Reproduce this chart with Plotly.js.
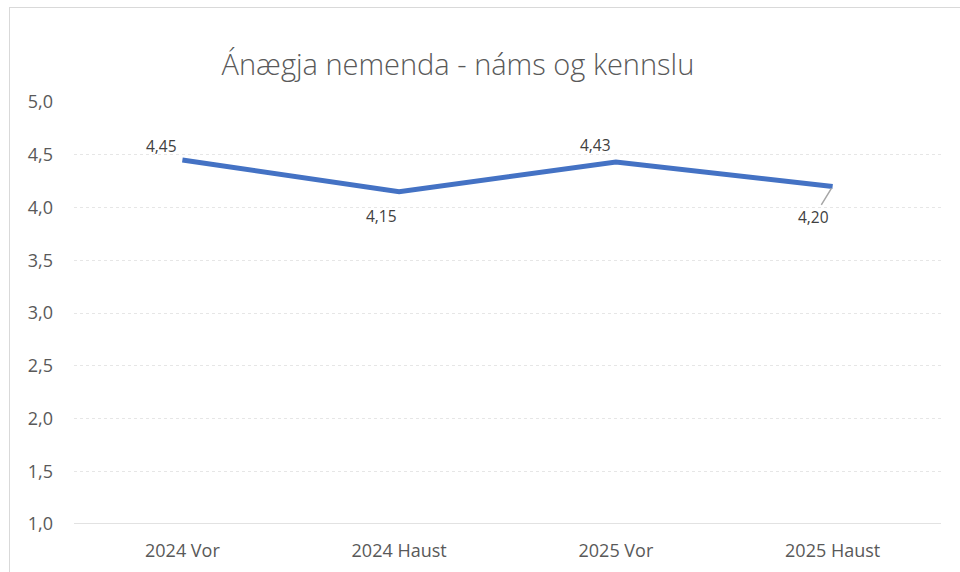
<!DOCTYPE html>
<html>
<head>
<meta charset="utf-8">
<script src="https://cdn.plot.ly/plotly-3.0.1.min.js"></script>
<style>
html,body{margin:0;padding:0;background:#fff;}
#wrap{position:relative;width:960px;height:572px;overflow:hidden;}
#chart{position:absolute;left:0;top:0;width:960px;height:572px;}
#frame{position:absolute;left:9px;top:7px;width:1000px;height:1000px;border:1.5px solid #d9d9d9;pointer-events:none;}
</style>
</head>
<body>
<div id="wrap"><div id="chart"></div><div id="frame"></div></div>
<script>
const categories = ["2024 Vor", "2024 Haust", "2025 Vor", "2025 Haust"];
const values = [4.45, 4.15, 4.43, 4.20];
const yTicks = [1.0, 1.5, 2.0, 2.5, 3.0, 3.5, 4.0, 4.5, 5.0];
const yTickText = ["1,0", "1,5", "2,0", "2,5", "3,0", "3,5", "4,0", "4,5", "5,0"];
const chartTitle = "Ánægja nemenda - náms og kennslu";

const FONT = "'Open Sans', 'Noto Sans', sans-serif";
const fmt = v => v.toFixed(2).replace(".", ",");
const labelStyle = [
  {xshift: -21, yshift: 14},
  {xshift: -18, yshift: -24},
  {xshift: -20, yshift: 17}
];
const annotations = [];
values.forEach((v, i) => {
  if (i < 3) {
    annotations.push({
      x: categories[i], y: v, xref: "x", yref: "y",
      text: fmt(v), showarrow: false,
      xshift: labelStyle[i].xshift, yshift: labelStyle[i].yshift,
      font: {family: FONT, size: 15.5, color: "#404040"}
    });
  } else {
    annotations.push({
      x: categories[i], y: v, xref: "x", yref: "y",
      text: fmt(v), showarrow: true, arrowhead: 0, arrowwidth: 1.5,
      arrowcolor: "#a6a6a6", ax: -19, ay: 31, standoff: 2,
      font: {family: FONT, size: 15.5, color: "#404040"}
    });
  }
});

const trace = {
  x: categories, y: values, type: "scatter", mode: "lines",
  line: {color: "#4472C4", width: 5, shape: "linear"},
  hoverinfo: "skip"
};

const layout = {
  width: 960, height: 572,
  margin: {l: 74, r: 19, t: 102, b: 48},
  paper_bgcolor: "#ffffff", plot_bgcolor: "#ffffff",
  showlegend: false,
  title: {
    text: chartTitle, x: 0.477, xanchor: "center", y: 0.886, yanchor: "middle",
    font: {family: FONT, size: 29, color: "#595959", weight: 300}
  },
  xaxis: {
    type: "category", range: [-0.5, 3.5],
    showgrid: false, zeroline: false, showline: false, ticks: "",
    tickfont: {family: FONT, size: 18, color: "#595959"},
    ticklabelstandoff: 14,
    fixedrange: true
  },
  yaxis: {
    range: [1.0, 5.0], tickvals: yTicks, ticktext: yTickText,
    showgrid: true, gridcolor: "#e6e6e6", griddash: "dot", gridwidth: 1,
    zeroline: false, showline: false, ticks: "",
    tickfont: {family: FONT, size: 18, color: "#595959"},
    ticklabelstandoff: 20,
    fixedrange: true
  },
  shapes: [{
    type: "line", xref: "paper", yref: "y", x0: 0, x1: 1, y0: 1.0, y1: 1.0,
    line: {color: "#d9d9d9", width: 1.5}
  }],
  annotations: annotations
};

Plotly.newPlot("chart", [trace], layout, {displayModeBar: false, staticPlot: true});
</script>
</body>
</html>
